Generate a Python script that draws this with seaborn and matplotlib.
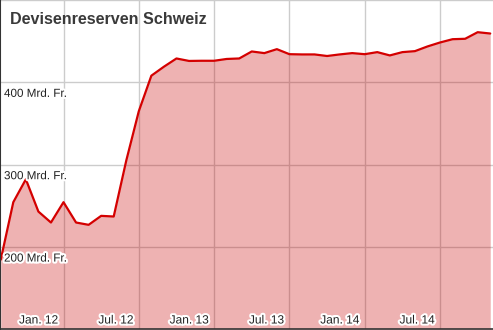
import numpy as np
import pandas as pd
import matplotlib
matplotlib.use("Agg")
import matplotlib.pyplot as plt
import matplotlib.patheffects as pe
import matplotlib.transforms as mtransforms
import seaborn as sns

# Monthly foreign currency reserves (bn CHF), end of month Jul 2011 .. Oct 2014
months = pd.date_range("2011-07-01", periods=40, freq="MS").strftime("%Y-%m").tolist()
reserves = [184.7, 254.5, 282.3, 243.1, 229.8, 254.5, 229.8, 227.0, 237.9, 237.1,
            305.0, 365.0, 408.1, 419.0, 429.0, 426.0, 426.2, 426.2, 428.4, 429.0,
            437.5, 435.5, 440.3, 434.2, 433.9, 433.9, 432.0, 433.9, 435.5, 434.2,
            436.7, 432.7, 436.7, 437.9, 443.6, 448.4, 452.4, 452.9, 460.9, 459.3]
xtick_labels = ["Jan. 12", "Jul. 12", "Jan. 13", "Jul. 13", "Jan. 14", "Jul. 14"]
xtick_index = [5, 11, 17, 23, 29, 35]
ytick_values = [200, 300, 400, 500]
ytick_labels = ["200 Mrd. Fr.", "300 Mrd. Fr.", "400 Mrd. Fr.", ""]
title = "Devisenreserven Schweiz"

df = pd.DataFrame({"idx": np.arange(len(reserves)), "month": months, "value": reserves})

sns.set_theme(style="white")
plt.rcParams["font.family"] = ["Liberation Sans", "DejaVu Sans"]

fig = plt.figure(figsize=(4.93, 3.30), dpi=100)
ax = fig.add_axes([0.0, 0.003, 1.0, 0.997])

ymin, ymax = 100.5, 500
ax.set_xlim(-0.06, 39.22)
ax.set_ylim(ymin, ymax)

ax.fill_between(df["idx"], df["value"], ymin, color="#c80000", alpha=0.3, lw=0, zorder=2)
sns.lineplot(data=df, x="idx", y="value", ax=ax, color="#d40000", lw=1.6, zorder=3)

ax.set_xticks(xtick_index)
ax.set_yticks(ytick_values)
ax.grid(True, color="#cccccc", lw=1, zorder=1)
ax.set_axisbelow(True)
ax.tick_params(length=0, labelbottom=False, labelleft=False)
ax.set_xlabel("")
ax.set_ylabel("")

for side in ["top", "right"]:
    ax.spines[side].set_visible(False)
ax.spines["left"].set_color("#333333")
ax.spines["left"].set_linewidth(1.5)
ax.spines["bottom"].set_color("#333333")
ax.spines["bottom"].set_linewidth(1.2)
for s in ["left", "bottom"]:
    ax.spines[s].set_zorder(5)

stroke = [pe.withStroke(linewidth=3, foreground="white")]
px = 72 / 100.0  # points per pixel

# x tick labels: right-aligned just left of the grid line
for i, lab in zip(xtick_index, xtick_labels):
    tr = ax.get_xaxis_transform() + mtransforms.ScaledTranslation(-5.5 * px / 72, 5.5 * px / 72, fig.dpi_scale_trans)
    ax.text(i, 0, lab, transform=tr, ha="right", va="baseline", fontsize=8.6,
            color="#222222", path_effects=stroke, zorder=6)

# y tick labels: below the grid line, at left
for v, lab in zip(ytick_values, ytick_labels):
    if not lab:
        continue
    tr = ax.get_yaxis_transform() + mtransforms.ScaledTranslation(4 * px / 72, -14.5 * px / 72, fig.dpi_scale_trans)
    ax.text(0, v, lab, transform=tr, ha="left", va="baseline", fontsize=8.4,
            color="#222222", path_effects=stroke, zorder=6)

fig.text(10.5 / 493, 1 - 23.5 / 330, title, ha="left", va="baseline", fontsize=11.6,
         fontweight="bold", color="#3a3a3a")

fig.savefig("out.png", dpi=100)
